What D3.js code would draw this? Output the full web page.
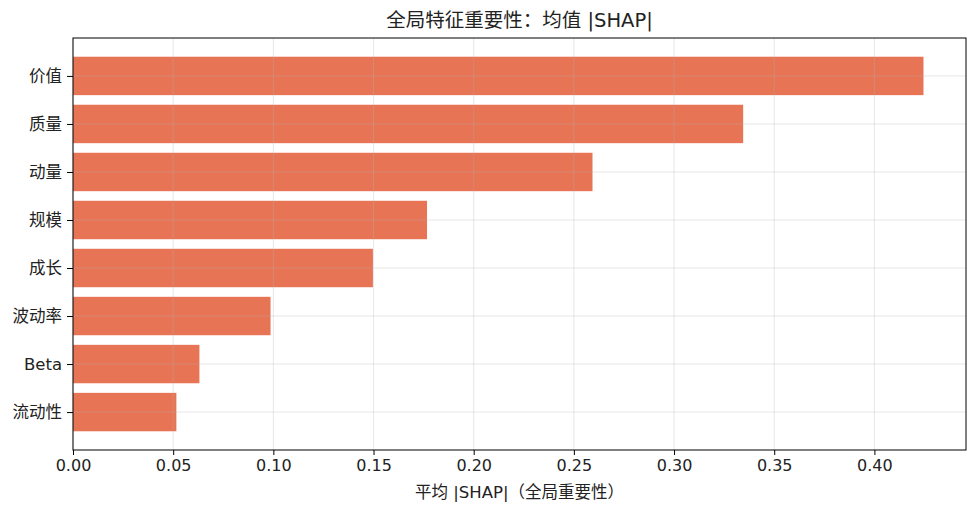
<!DOCTYPE html>
<html>
<head>
<meta charset="utf-8">
<script src="https://cdn.jsdelivr.net/npm/d3@7"></script>
<style>
  body { margin: 0; background: #fff; }
  text { font-family: "DejaVu Sans", "Noto Sans CJK SC", sans-serif; fill: #222; }
</style>
</head>
<body>
<svg id="chart" width="975" height="513"></svg>
<script>
'use strict';

// data, top to bottom
const features = ['价值', '质量', '动量', '规模', '成长', '波动率', 'Beta', '流动性'];
const meanShap = [0.4245, 0.3345, 0.2593, 0.1767, 0.1497, 0.0986, 0.0631, 0.0516];
const xTicks = [0, 0.05, 0.10, 0.15, 0.20, 0.25, 0.30, 0.35, 0.40];

const svg = d3.select('#chart');
const margin = { top: 38, right: 9, bottom: 63, left: 73 };
const width = 975 - margin.left - margin.right;
const height = 513 - margin.top - margin.bottom;

const g = svg.append('g').attr('transform', `translate(${margin.left},${margin.top})`);

const x = d3.scaleLinear()
    .domain([0, d3.max(meanShap) * 1.05])
    .range([0, width]);

// matplotlib-like band: bar height 0.8, 5% margins
const n = features.length;
const pad = 0.4 + 0.05 * (n - 0.2);
const y = d3.scaleLinear()
    .domain([-pad, n - 1 + pad])
    .range([0, height]);
const barH = y(0.8) - y(0);

// bars
g.selectAll('rect.bar')
    .data(meanShap)
    .enter()
    .append('rect')
    .attr('class', 'bar')
    .attr('x', 0)
    .attr('y', (_, i) => y(i) - barH / 2)
    .attr('width', d => x(d))
    .attr('height', barH)
    .attr('fill', '#e76f51')
    .attr('fill-opacity', 0.97);

// grid on top of bars, faint
g.append('g')
    .selectAll('line.vgrid')
    .data(xTicks)
    .enter()
    .append('line')
    .attr('x1', d => x(d)).attr('x2', d => x(d))
    .attr('y1', 0).attr('y2', height)
    .attr('stroke', '#b0b0b0')
    .attr('stroke-opacity', 0.35)
    .attr('stroke-width', 0.9);

g.append('g')
    .selectAll('line.hgrid')
    .data(features)
    .enter()
    .append('line')
    .attr('x1', 0).attr('x2', width)
    .attr('y1', (_, i) => y(i)).attr('y2', (_, i) => y(i))
    .attr('stroke', '#b0b0b0')
    .attr('stroke-opacity', 0.35)
    .attr('stroke-width', 0.9);

// axes
const xAxis = d3.axisBottom(x)
    .tickValues(xTicks)
    .tickFormat(d3.format('.2f'))
    .tickSize(5)
    .tickPadding(5);

g.append('g')
    .attr('transform', `translate(0,${height})`)
    .call(xAxis)
    .call(a => a.select('.domain').remove())
    .call(a => a.selectAll('text').style('font-size', '16px').attr('fill', '#222'))
    .call(a => a.selectAll('line').attr('stroke', '#000'));

const yAxis = d3.axisLeft(y)
    .tickValues(d3.range(n))
    .tickFormat(i => features[i])
    .tickSize(6)
    .tickPadding(5);

g.append('g')
    .call(yAxis)
    .call(a => a.select('.domain').remove())
    .call(a => a.selectAll('text').style('font-size', '16.5px').attr('fill', '#222'))
    .call(a => a.selectAll('line').attr('stroke', '#000'));

// frame
g.append('rect')
    .attr('width', width)
    .attr('height', height)
    .attr('fill', 'none')
    .attr('stroke', '#000')
    .attr('stroke-width', 1);

// title & label
svg.append('text')
    .attr('x', margin.left + width / 2)
    .attr('y', 27)
    .attr('text-anchor', 'middle')
    .style('font-size', '19.5px')
    .text('全局特征重要性：均值 |SHAP|');

svg.append('text')
    .attr('x', margin.left + width / 2)
    .attr('y', 498)
    .attr('text-anchor', 'middle')
    .style('font-size', '16.5px')
    .text('平均 |SHAP|（全局重要性）');
</script>
</body>
</html>
